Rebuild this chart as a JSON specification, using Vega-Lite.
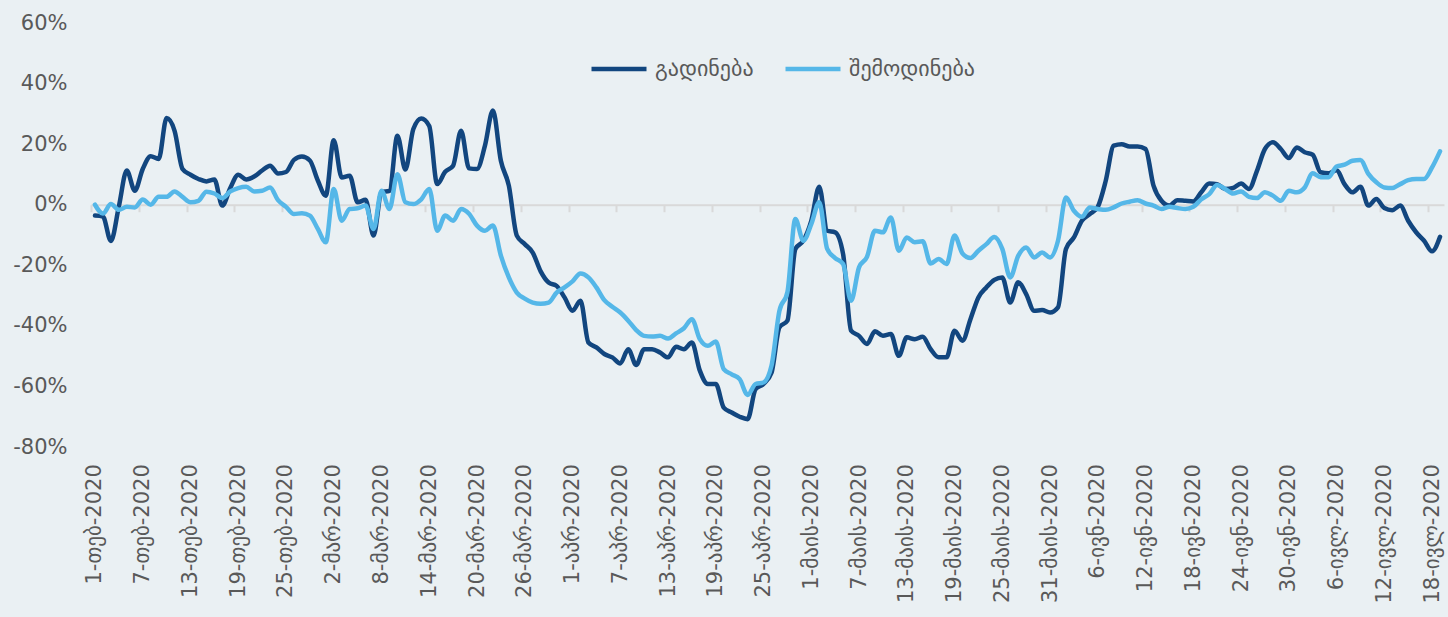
{
  "$schema": "https://vega.github.io/schema/vega-lite/v6.json",
  "width": 1353,
  "height": 424,
  "autosize": {"type": "none"},
  "padding": {"left": 91, "top": 23, "right": 4, "bottom": 170},
  "background": "#eaf0f3",
  "config": {"view": {"stroke": null}, "font": "DejaVu Sans"},
  "data": {"values": [
    {"date":"2020-02-01","გადინება":-3.6,"შემოდინება":0},
    {"date":"2020-02-02","გადინება":-3.9,"შემოდინება":-2.9},
    {"date":"2020-02-03","გადინება":-12.0,"შემოდინება":0.2},
    {"date":"2020-02-04","გადინება":-0.6,"შემოდინება":-1.7},
    {"date":"2020-02-05","გადინება":11.3,"შემოდინება":-0.7},
    {"date":"2020-02-06","გადინება":4.6,"შემოდინება":-0.9},
    {"date":"2020-02-07","გადინება":11.8,"შემოდინება":1.7},
    {"date":"2020-02-08","გადინება":16.0,"შემოდინება":0.0},
    {"date":"2020-02-09","გადინება":15.1,"შემოდინება":2.6},
    {"date":"2020-02-10","გადინება":28.6,"შემოდინება":2.6},
    {"date":"2020-02-11","გადინება":24.4,"შემოდინება":4.4},
    {"date":"2020-02-12","გადინება":11.8,"შემოდინება":2.6},
    {"date":"2020-02-13","გადინება":9.9,"შემოდინება":0.8},
    {"date":"2020-02-14","გადინება":8.5,"შემოდინება":1.3},
    {"date":"2020-02-15","გადინება":7.7,"შემოდინება":4.3},
    {"date":"2020-02-16","გადინება":8.3,"შემოდინება":3.7},
    {"date":"2020-02-17","გადინება":-0.3,"შემოდინება":2.2},
    {"date":"2020-02-18","გადინება":5.5,"შემოდინება":4.4},
    {"date":"2020-02-19","გადინება":9.9,"შემოდინება":5.5},
    {"date":"2020-02-20","გადინება":8.3,"შემოდინება":5.9},
    {"date":"2020-02-21","გადინება":9.3,"შემოდინება":4.4},
    {"date":"2020-02-22","გადინება":11.3,"შემოდინება":4.6},
    {"date":"2020-02-23","გადინება":12.9,"შემოდინება":5.7},
    {"date":"2020-02-24","გადინება":10.3,"შემოდინება":1.5},
    {"date":"2020-02-25","გადინება":10.8,"შემოდინება":-0.7},
    {"date":"2020-02-26","გადინება":14.8,"შემოდინება":-3.1},
    {"date":"2020-02-27","გადინება":15.9,"შემოდინება":-2.8},
    {"date":"2020-02-28","გადინება":14.6,"შემოდინება":-3.6},
    {"date":"2020-02-29","გადინება":8.0,"შემოდინება":-8.0},
    {"date":"2020-03-01","გადინება":3.0,"შემოდინება":-12.4},
    {"date":"2020-03-02","გადინება":21.3,"შემოდინება":5.2},
    {"date":"2020-03-03","გადინება":9.0,"შემოდინება":-5.3},
    {"date":"2020-03-04","გადინება":9.6,"შემოდინება":-1.4},
    {"date":"2020-03-05","გადინება":0.8,"შემოდინება":-1.2},
    {"date":"2020-03-06","გადინება":1.6,"შემოდინება":-0.3},
    {"date":"2020-03-07","გადინება":-10.2,"შემოდინება":-8.0},
    {"date":"2020-03-08","გადინება":4.1,"შემოდინება":4.6},
    {"date":"2020-03-09","გადინება":4.6,"შემოდინება":-1.4},
    {"date":"2020-03-10","გადინება":22.8,"შემოდინება":10.1},
    {"date":"2020-03-11","გადინება":11.6,"შემოდინება":0.8},
    {"date":"2020-03-12","გადინება":25.0,"შემოდინება":0.2},
    {"date":"2020-03-13","გადინება":28.5,"შემოდინება":1.8},
    {"date":"2020-03-14","გადინება":26.0,"შემოდინება":5.2},
    {"date":"2020-03-15","გადინება":6.8,"შემოდინება":-8.6},
    {"date":"2020-03-16","გადინება":10.9,"შემოდინება":-3.6},
    {"date":"2020-03-17","გადინება":12.9,"შემოდინება":-5.3},
    {"date":"2020-03-18","გადინება":24.4,"შემოდინება":-1.4},
    {"date":"2020-03-19","გადინება":12.0,"შემოდინება":-3.0},
    {"date":"2020-03-20","გადინება":11.8,"შემოდინება":-6.9},
    {"date":"2020-03-21","გადინება":19.5,"შემოდინება":-8.6},
    {"date":"2020-03-22","გადინება":31.1,"შემოდინება":-6.9},
    {"date":"2020-03-23","გადინება":14.5,"შემოდინება":-16.8},
    {"date":"2020-03-24","გადინება":6.3,"შემოდინება":-24.0},
    {"date":"2020-03-25","გადინება":-10.2,"შემოდინება":-29.0},
    {"date":"2020-03-26","გადინება":-13.0,"შემოდინება":-31.0},
    {"date":"2020-03-27","გადინება":-15.8,"შემოდინება":-32.3},
    {"date":"2020-03-28","გადინება":-22.0,"შემოდინება":-32.7},
    {"date":"2020-03-29","გადინება":-25.7,"შემოდინება":-32.3},
    {"date":"2020-03-30","გადინება":-26.8,"შემოდინება":-29.0},
    {"date":"2020-03-31","გადინება":-30.6,"შემოდინება":-27.3},
    {"date":"2020-04-01","გადინება":-35.0,"შემოდინება":-25.3},
    {"date":"2020-04-02","გადინება":-31.7,"შემოდინება":-22.7},
    {"date":"2020-04-03","გადინება":-45.5,"შემოდინება":-24.0},
    {"date":"2020-04-04","გადინება":-47.1,"შემოდინება":-27.3},
    {"date":"2020-04-05","გადინება":-49.3,"შემოდინება":-31.5},
    {"date":"2020-04-06","გადინება":-50.4,"შემოდინება":-33.7},
    {"date":"2020-04-07","გადინება":-52.4,"შემოდინება":-35.6},
    {"date":"2020-04-08","გადინება":-47.7,"შემოდინება":-38.3},
    {"date":"2020-04-09","გადინება":-52.9,"შემოდინება":-41.4},
    {"date":"2020-04-10","გადინება":-47.7,"შემოდინება":-43.3},
    {"date":"2020-04-11","გადინება":-47.7,"შემოდინება":-43.5},
    {"date":"2020-04-12","გადინება":-48.8,"შემოდინება":-43.3},
    {"date":"2020-04-13","გადინება":-50.4,"შემოდინება":-44.2},
    {"date":"2020-04-14","გადინება":-46.9,"შემოდინება":-42.5},
    {"date":"2020-04-15","გადინება":-47.7,"შემოდინება":-40.8},
    {"date":"2020-04-16","გადინება":-45.5,"შემოდინება":-37.8},
    {"date":"2020-04-17","გადინება":-54.8,"შემოდინება":-44.4},
    {"date":"2020-04-18","გადინება":-59.2,"შემოდინება":-46.6},
    {"date":"2020-04-19","გადინება":-59.2,"შემოდინება":-45.2},
    {"date":"2020-04-20","გადინება":-67.0,"შემოდინება":-54.3},
    {"date":"2020-04-21","გადინება":-68.6,"შემოდინება":-56.0},
    {"date":"2020-04-22","გადინება":-70.0,"შემოდინება":-57.6},
    {"date":"2020-04-23","გადინება":-70.8,"შემოდინება":-62.8},
    {"date":"2020-04-24","გადინება":-60.9,"შემოდინება":-59.2},
    {"date":"2020-04-25","გადინება":-59.2,"შემოდინება":-58.7},
    {"date":"2020-04-26","გადინება":-55.5,"შემოდინება":-53.2},
    {"date":"2020-04-27","გადინება":-40.5,"შემოდინება":-35.0},
    {"date":"2020-04-28","გადინება":-38.3,"შემოდინება":-28.9},
    {"date":"2020-04-29","გადინება":-14.6,"შემოდინება":-4.7},
    {"date":"2020-04-30","გადინება":-11.9,"შემოდინება":-11.9},
    {"date":"2020-05-01","გადინება":-5.3,"შემოდინება":-6.4},
    {"date":"2020-05-02","გადინება":5.9,"შემოდინება":0.8},
    {"date":"2020-05-03","გადინება":-8.6,"შემოდინება":-14.6},
    {"date":"2020-05-04","გადინება":-9.1,"შემოდინება":-17.6},
    {"date":"2020-05-05","გადინება":-16.3,"შემოდინება":-19.6},
    {"date":"2020-05-06","გადინება":-41.6,"შემოდინება":-31.7},
    {"date":"2020-05-07","გადინება":-43.3,"შემოდინება":-20.7},
    {"date":"2020-05-08","გადინება":-46.0,"შემოდინება":-17.2},
    {"date":"2020-05-09","გადინება":-41.8,"შემოდინება":-8.6},
    {"date":"2020-05-10","გადინება":-43.3,"შემოდინება":-9.1},
    {"date":"2020-05-11","გადინება":-42.7,"შემოდინება":-4.2},
    {"date":"2020-05-12","გადინება":-49.9,"შემოდინება":-15.2},
    {"date":"2020-05-13","გადინება":-43.8,"შემოდინება":-10.8},
    {"date":"2020-05-14","გადინება":-44.4,"შემოდინება":-12.4},
    {"date":"2020-05-15","გადინება":-43.6,"შემოდინება":-12.1},
    {"date":"2020-05-16","გადინება":-47.7,"შემოდინება":-19.4},
    {"date":"2020-05-17","გადინება":-50.4,"შემოდინება":-17.9},
    {"date":"2020-05-18","გადინება":-50.4,"შემოდინება":-19.6},
    {"date":"2020-05-19","გადინება":-41.6,"შემოდინება":-10.2},
    {"date":"2020-05-20","გადინება":-44.9,"შემოდინება":-16.1},
    {"date":"2020-05-21","გადინება":-37.8,"შემოდინება":-17.6},
    {"date":"2020-05-22","გადინება":-30.6,"შემოდინება":-15.2},
    {"date":"2020-05-23","გადინება":-27.3,"შემოდინება":-13.0},
    {"date":"2020-05-24","გადინება":-24.8,"შემოდინება":-10.7},
    {"date":"2020-05-25","გადინება":-24.0,"შემოდინება":-14.6},
    {"date":"2020-05-26","გადინება":-32.3,"შემოდინება":-24.0},
    {"date":"2020-05-27","გადინება":-25.6,"შემოდინება":-16.9},
    {"date":"2020-05-28","გადინება":-29.5,"შემოდინება":-14.1},
    {"date":"2020-05-29","გადინება":-35.0,"შემოდინება":-17.4},
    {"date":"2020-05-30","გადინება":-34.8,"შემოდინება":-15.8},
    {"date":"2020-05-31","გადინება":-35.6,"შემოდინება":-17.4},
    {"date":"2020-06-01","გადინება":-33.9,"შემოდინება":-11.9},
    {"date":"2020-06-02","გადინება":-14.6,"შემოდინება":2.4},
    {"date":"2020-06-03","გადინება":-10.8,"შემოდინება":-2.0},
    {"date":"2020-06-04","გადინება":-5.3,"შემოდინება":-4.0},
    {"date":"2020-06-05","გადინება":-3.1,"შემოდინება":-0.9},
    {"date":"2020-06-06","გადინება":-0.7,"შემოდინება":-1.4},
    {"date":"2020-06-07","გადინება":7.9,"შემოდინება":-1.7},
    {"date":"2020-06-08","გადინება":19.5,"შემოდინება":-0.9},
    {"date":"2020-06-09","გადინება":20.0,"შემოდინება":0.4},
    {"date":"2020-06-10","გადინება":19.2,"შემოდინება":1.0},
    {"date":"2020-06-11","გადინება":19.2,"შემოდინება":1.5},
    {"date":"2020-06-12","გადინება":18.4,"შემოდინება":0.4},
    {"date":"2020-06-13","გადინება":6.3,"შემოდინება":-0.3},
    {"date":"2020-06-14","გადინება":1.3,"შემოდინება":-1.4},
    {"date":"2020-06-15","გადინება":-0.3,"შემოდინება":-0.7},
    {"date":"2020-06-16","გადინება":1.5,"შემოდინება":-1.1},
    {"date":"2020-06-17","გადინება":1.3,"შემოდინება":-1.4},
    {"date":"2020-06-18","გადინება":1.1,"შემოდინება":-0.7},
    {"date":"2020-06-19","გადინება":4.1,"შემოდინება":1.8},
    {"date":"2020-06-20","გადინება":7.0,"შემოდინება":3.5},
    {"date":"2020-06-21","გადინება":6.8,"შემოდინება":6.5},
    {"date":"2020-06-22","გადინება":5.2,"შემოდინება":5.2},
    {"date":"2020-06-23","გადინება":5.5,"შემოდინება":3.7},
    {"date":"2020-06-24","გადინება":7.0,"შემოდინება":4.4},
    {"date":"2020-06-25","გადინება":5.2,"შემოდინება":2.6},
    {"date":"2020-06-26","გადინება":11.2,"შემოდინება":2.2},
    {"date":"2020-06-27","გადინება":18.4,"შემოდინება":4.1},
    {"date":"2020-06-28","გადინება":20.6,"შემოდინება":3.0},
    {"date":"2020-06-29","გადინება":18.4,"შემოდინება":1.3},
    {"date":"2020-06-30","გადინება":15.4,"შემოდინება":4.6},
    {"date":"2020-07-01","გადინება":18.9,"შემოდინება":4.1},
    {"date":"2020-07-02","გადინება":17.3,"შემოდინება":5.7},
    {"date":"2020-07-03","გადინება":16.5,"შემოდინება":10.4},
    {"date":"2020-07-04","გადინება":10.7,"შემოდინება":9.1},
    {"date":"2020-07-05","გადინება":10.4,"შემოდინება":9.1},
    {"date":"2020-07-06","გადინება":11.4,"შემოდინება":12.6},
    {"date":"2020-07-07","გადინება":6.8,"შემოდინება":13.2},
    {"date":"2020-07-08","გადინება":4.1,"შემოდინება":14.5},
    {"date":"2020-07-09","გადინება":5.9,"შემოდინება":14.8},
    {"date":"2020-07-10","გადინება":-0.3,"შემოდინება":10.2},
    {"date":"2020-07-11","გადინება":1.9,"შემოდინება":7.4},
    {"date":"2020-07-12","გადინება":-1.1,"შემოდინება":5.7},
    {"date":"2020-07-13","გადინება":-1.8,"შემოდინება":5.5},
    {"date":"2020-07-14","გადინება":-0.3,"შემოდინება":6.8},
    {"date":"2020-07-15","გადინება":-5.3,"შემოდინება":8.1},
    {"date":"2020-07-16","გადინება":-9.1,"შემოდინება":8.5},
    {"date":"2020-07-17","გადინება":-11.9,"შემოდინება":8.5},
    {"date":"2020-07-18","გადინება":-15.4,"შემოდინება":12.3},
    {"date":"2020-07-19","გადინება":-10.6,"შემოდინება":17.6}
  ]},
  "transform": [{"fold": ["გადინება", "შემოდინება"], "as": ["series", "value"]}],
  "mark": {"type": "line", "interpolate": "monotone", "strokeWidth": 4.5, "strokeCap": "round", "strokeJoin": "round"},
  "encoding": {
    "x": {
      "field": "date", "type": "temporal",
      "scale": {"type": "utc", "domain": [1580472000000, 1595160000000]},
      "axis": {
        "title": null, "orient": "bottom", "offset": -242.29, "grid": false,
        "values": [1580515200000,1581033600000,1581552000000,1582070400000,1582588800000,1583107200000,1583625600000,1584144000000,1584662400000,1585180800000,1585699200000,1586217600000,1586736000000,1587254400000,1587772800000,1588291200000,1588809600000,1589328000000,1589846400000,1590364800000,1590883200000,1591401600000,1591920000000,1592438400000,1592956800000,1593475200000,1593993600000,1594512000000,1595030400000],
        "domain": true, "domainColor": "#d9d9d9", "domainWidth": 2,
        "ticks": true, "tickColor": "#d9d9d9", "tickWidth": 2, "tickSize": 7,
        "tickOffset": -3.98, "labelOffset": 3.98,
        "labelAngle": -90, "labelAlign": "right", "labelBaseline": "middle",
        "labelPadding": 252, "labelFontSize": 21, "labelColor": "#595959",
        "labelOverlap": false, "labelFlush": false, "labelBound": false,
        "labelExpr": "utcdate(datum.value) + '-' + ['იან','თებ','მარ','აპრ','მაის','ივნ','ივლ','აგვ','სექ','ოქტ','ნოე','დეკ'][utcmonth(datum.value)] + '-' + utcyear(datum.value)"
      }
    },
    "y": {
      "field": "value", "type": "quantitative",
      "scale": {"domain": [-80, 60], "nice": false, "zero": false},
      "axis": {
        "title": null, "values": [-80, -60, -40, -20, 0, 20, 40, 60],
        "domain": false, "ticks": false, "grid": false,
        "labelPadding": 24, "labelFontSize": 21, "labelColor": "#595959",
        "labelExpr": "datum.value + '%'"
      }
    },
    "color": {
      "field": "series", "type": "nominal",
      "scale": {"domain": ["გადინება", "შემოდინება"], "range": ["#12467f", "#55b7e8"]},
      "legend": {
        "title": null, "orient": "none", "legendX": 498, "legendY": 16, "direction": "horizontal",
        "symbolType": "stroke", "symbolSize": 3025, "symbolStrokeWidth": 4.5,
        "labelFontSize": 22, "labelColor": "#595959", "columnPadding": 22, "labelOffset": 6
      }
    }
  }
}
